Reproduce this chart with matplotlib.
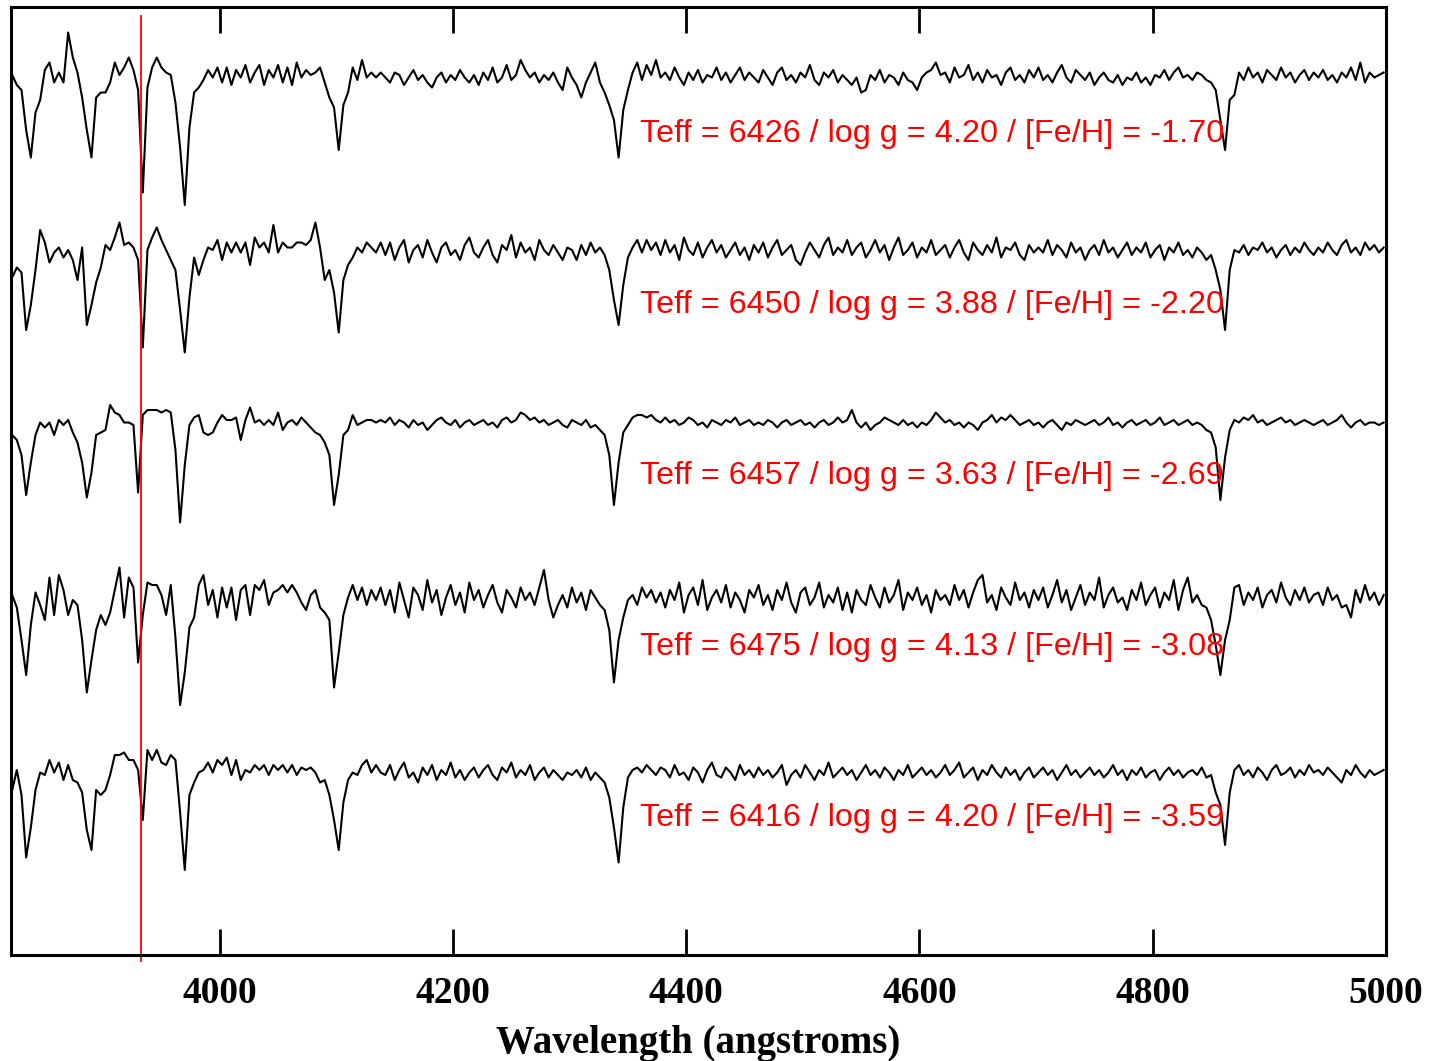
import numpy as np
import matplotlib.pyplot as plt

# wavelength sampling of the spectra (angstroms)
wave_start = 3822
wave_step = 4

# normalized flux (percent of continuum), one row = 80 A
spec1 = [
    [100, 96, 94, 78, 67, 85, 90, 102, 105, 97, 101, 97, 117, 107, 101, 91, 78, 67, 91, 93],
    [93, 97, 105, 100, 103, 107, 102, 94, 53, 95, 103, 107, 103, 101, 100, 89, 71, 48, 79, 93],
    [95, 98, 102, 99, 103, 97, 103, 96, 102, 99, 104, 97, 101, 104, 96, 102, 99, 104, 97, 103],
    [96, 105, 99, 102, 100, 101, 103, 97, 91, 87, 70, 88, 93, 103, 98, 106, 99, 101, 99, 101],
    [99, 97, 101, 100, 96, 99, 102, 98, 100, 97, 95, 99, 101, 97, 100, 98, 102, 99, 97, 100],
    [96, 101, 98, 103, 97, 99, 104, 98, 100, 106, 102, 99, 101, 97, 100, 98, 101, 97, 94, 103],
    [99, 96, 91, 97, 101, 105, 97, 93, 88, 82, 67, 86, 94, 101, 105, 98, 104, 100, 106, 99],
    [101, 98, 103, 99, 96, 101, 98, 102, 97, 100, 99, 103, 98, 101, 97, 100, 103, 98, 101, 99],
    [97, 102, 99, 96, 101, 103, 98, 100, 97, 101, 99, 104, 98, 96, 101, 99, 102, 97, 100, 98],
    [96, 99, 93, 94, 100, 98, 102, 97, 100, 99, 96, 101, 98, 97, 94, 99, 101, 102, 105, 100],
    [101, 97, 103, 99, 100, 104, 98, 101, 97, 102, 99, 100, 96, 101, 103, 98, 100, 97, 102, 99],
    [103, 98, 100, 97, 101, 104, 99, 97, 102, 100, 98, 101, 96, 99, 101, 98, 97, 100, 96, 99],
    [98, 101, 97, 99, 96, 100, 99, 102, 98, 101, 103, 99, 100, 98, 101, 100, 98, 97, 94, 82],
    [70, 90, 92, 101, 98, 103, 99, 101, 97, 102, 100, 98, 103, 99, 101, 97, 100, 102, 98, 101],
    [99, 102, 98, 100, 97, 101, 99, 103, 98, 105, 97, 101, 99, 100, 101],
]
spec2 = [
    [89, 93, 91, 68, 78, 92, 108, 103, 95, 99, 101, 97, 100, 96, 88, 101, 70, 78, 87, 93],
    [102, 100, 105, 111, 102, 103, 101, 96, 61, 100, 105, 109, 104, 100, 96, 92, 76, 59, 81, 97],
    [90, 96, 101, 100, 104, 96, 103, 99, 103, 99, 103, 94, 105, 101, 103, 99, 110, 99, 103, 101],
    [101, 103, 103, 102, 104, 111, 101, 88, 92, 83, 67, 88, 94, 97, 101, 99, 103, 101, 99, 103],
    [98, 103, 96, 101, 104, 95, 100, 102, 97, 104, 99, 95, 101, 103, 98, 100, 96, 102, 105, 99],
    [97, 101, 104, 98, 95, 102, 100, 106, 97, 103, 99, 101, 96, 104, 100, 98, 102, 99, 96, 101],
    [100, 96, 102, 98, 103, 99, 101, 98, 92, 80, 70, 86, 97, 101, 104, 99, 104, 100, 103, 98],
    [104, 99, 102, 96, 105, 100, 98, 103, 97, 101, 104, 99, 102, 97, 100, 103, 98, 101, 96, 102],
    [99, 103, 97, 101, 104, 98, 100, 102, 96, 94, 99, 103, 100, 97, 102, 105, 98, 101, 99, 104],
    [98, 101, 103, 97, 100, 104, 99, 102, 96, 101, 105, 98, 100, 103, 97, 101, 99, 104, 98, 100],
    [102, 97, 101, 104, 99, 96, 103, 100, 98, 102, 99, 105, 97, 101, 100, 103, 98, 96, 102, 99],
    [101, 99, 104, 98, 102, 100, 97, 103, 99, 101, 96, 100, 102, 98, 104, 99, 101, 97, 100, 103],
    [98, 101, 99, 103, 97, 100, 102, 96, 101, 99, 103, 98, 100, 97, 101, 99, 96, 98, 92, 84],
    [68, 92, 100, 99, 102, 98, 101, 100, 103, 99, 101, 97, 100, 102, 98, 101, 99, 103, 100, 98],
    [101, 99, 103, 100, 98, 102, 104, 99, 101, 98, 103, 100, 102, 99, 101],
]
spec3 = [
    [95, 93, 87, 71, 84, 95, 100, 98, 100, 95, 101, 99, 101, 96, 92, 84, 70, 80, 95, 96],
    [97, 107, 104, 103, 100, 100, 99, 72, 103, 105, 105, 105, 104, 105, 104, 89, 60, 83, 99, 102],
    [103, 96, 95, 96, 100, 103, 101, 101, 102, 93, 101, 106, 100, 101, 99, 101, 99, 104, 97, 100],
    [101, 99, 102, 100, 98, 96, 95, 92, 87, 67, 79, 95, 97, 103, 99, 100, 101, 101, 100, 101],
    [100, 102, 99, 101, 100, 98, 101, 99, 100, 97, 99, 101, 102, 100, 99, 101, 98, 100, 101, 99],
    [100, 101, 99, 100, 98, 101, 102, 100, 101, 104, 103, 101, 102, 100, 101, 99, 100, 101, 99, 98],
    [101, 100, 99, 101, 98, 99, 97, 95, 87, 67, 84, 96, 99, 102, 103, 103, 102, 103, 101, 100],
    [102, 100, 101, 99, 100, 102, 101, 99, 100, 98, 101, 100, 99, 101, 100, 102, 99, 100, 101, 99],
    [100, 99, 101, 100, 98, 100, 101, 99, 100, 101, 99, 100, 98, 100, 101, 99, 100, 102, 100, 101],
    [105, 100, 98, 100, 97, 99, 100, 102, 101, 100, 99, 101, 99, 100, 98, 100, 99, 101, 104, 102],
    [100, 101, 99, 100, 98, 100, 99, 97, 100, 101, 103, 100, 102, 101, 103, 101, 99, 100, 101, 99],
    [100, 98, 100, 101, 99, 97, 100, 99, 101, 100, 99, 100, 101, 99, 100, 102, 99, 100, 98, 100],
    [101, 99, 100, 101, 99, 100, 102, 99, 100, 101, 99, 100, 101, 99, 100, 99, 97, 96, 90, 69],
    [86, 97, 101, 100, 102, 101, 103, 100, 101, 99, 100, 101, 102, 100, 101, 99, 100, 101, 100, 99],
    [100, 101, 99, 100, 101, 103, 100, 98, 100, 101, 99, 100, 100, 99, 100],
]
spec4 = [
    [101, 96, 83, 69, 89, 102, 97, 91, 108, 93, 109, 103, 93, 99, 97, 83, 62, 75, 87, 93],
    [89, 94, 103, 112, 92, 108, 104, 74, 93, 106, 105, 105, 101, 93, 105, 84, 57, 70, 88, 92],
    [105, 109, 97, 103, 92, 104, 96, 104, 91, 103, 105, 93, 105, 103, 107, 97, 102, 103, 105, 102],
    [105, 102, 98, 95, 101, 103, 96, 94, 91, 64, 78, 93, 100, 105, 99, 104, 97, 103, 99, 104],
    [97, 103, 94, 106, 99, 92, 104, 101, 95, 107, 98, 103, 93, 100, 105, 97, 102, 94, 106, 99],
    [103, 96, 101, 105, 98, 94, 103, 100, 96, 104, 99, 102, 97, 104, 111, 99, 92, 97, 101, 96],
    [104, 98, 102, 95, 103, 100, 97, 95, 87, 66, 83, 92, 99, 101, 97, 104, 100, 103, 98, 102],
    [96, 103, 99, 106, 94, 101, 104, 97, 107, 95, 100, 103, 98, 105, 96, 102, 99, 94, 103, 100],
    [105, 97, 101, 95, 103, 99, 106, 98, 94, 102, 104, 97, 100, 106, 96, 101, 98, 104, 95, 102],
    [94, 103, 99, 97, 105, 100, 96, 104, 98, 101, 107, 95, 102, 99, 104, 97, 101, 94, 103, 99],
    [101, 97, 105, 99, 103, 96, 102, 107, 109, 98, 101, 95, 104, 100, 97, 106, 99, 102, 96, 103],
    [99, 104, 96, 101, 107, 98, 103, 95, 100, 105, 97, 102, 99, 108, 96, 101, 104, 98, 100, 95],
    [103, 99, 106, 97, 101, 104, 96, 102, 99, 107, 95, 103, 108, 98, 101, 97, 96, 91, 81, 69],
    [83, 91, 104, 105, 97, 102, 99, 104, 96, 101, 103, 98, 106, 100, 97, 103, 99, 104, 98, 101],
    [102, 97, 104, 99, 101, 96, 97, 92, 103, 98, 105, 99, 102, 97, 101],
]
spec5 = [
    [93, 101, 91, 66, 78, 93, 100, 99, 105, 100, 104, 97, 103, 97, 96, 92, 77, 69, 93, 91],
    [93, 99, 107, 107, 108, 105, 105, 101, 81, 109, 105, 109, 104, 103, 107, 105, 84, 61, 91, 96],
    [100, 101, 104, 100, 105, 103, 106, 99, 105, 97, 101, 100, 103, 101, 103, 99, 103, 101, 103, 100],
    [103, 99, 102, 101, 102, 100, 96, 97, 91, 81, 69, 88, 97, 100, 99, 103, 105, 100, 103, 100],
    [99, 103, 97, 101, 104, 98, 100, 96, 102, 99, 103, 97, 101, 99, 104, 98, 101, 97, 100, 102],
    [98, 101, 103, 99, 97, 102, 100, 104, 98, 101, 99, 103, 97, 100, 102, 98, 101, 99, 97, 100],
    [99, 101, 98, 102, 97, 100, 98, 96, 90, 78, 64, 86, 98, 101, 102, 100, 103, 101, 99, 102],
    [101, 98, 103, 99, 100, 97, 102, 100, 96, 101, 104, 99, 98, 102, 100, 97, 103, 99, 101, 98],
    [102, 99, 101, 98, 100, 103, 95, 99, 101, 98, 103, 100, 97, 101, 99, 104, 98, 100, 102, 99],
    [101, 97, 100, 103, 99, 101, 98, 102, 100, 97, 101, 99, 103, 98, 100, 102, 99, 101, 98, 100],
    [103, 99, 101, 104, 98, 100, 102, 97, 101, 99, 103, 100, 98, 102, 99, 101, 97, 100, 102, 98],
    [100, 102, 99, 101, 97, 100, 103, 99, 101, 98, 100, 102, 99, 101, 98, 100, 103, 99, 101, 97],
    [101, 99, 102, 98, 100, 101, 97, 100, 102, 99, 101, 98, 100, 101, 99, 102, 98, 99, 92, 87],
    [71, 92, 101, 103, 99, 101, 98, 102, 100, 97, 101, 103, 99, 100, 102, 98, 101, 99, 103, 100],
    [101, 99, 102, 100, 98, 96, 101, 99, 103, 100, 98, 101, 99, 100, 101],
]

teff = [6426, 6450, 6457, 6475, 6416]
logg = ["4.20", "3.88", "3.63", "4.13", "4.20"]
feh = ["-1.70", "-2.20", "-2.69", "-3.08", "-3.59"]

ca_k_line = 3932.5
xticks = [4000, 4200, 4400, 4600, 4800, 5000]

spectra = [spec1, spec2, spec3, spec4, spec5]
offsets = [2.52, 1.82, 1.13, 0.43, -0.27]
label_y = [3.252 - 0.684 * i for i in range(5)]

fig = plt.figure(figsize=(14.29, 10.61), dpi=100)
ax = fig.add_axes([0.0077, 0.0999, 0.9622, 0.8935])

for i, spec in enumerate(spectra):
    for r, row in enumerate(spec):
        if len(row) != (20 if r < 14 else 15):
            raise ValueError(f"spectrum {i + 1} row {r} has {len(row)} values")
    flux = np.concatenate([np.array(row, dtype=float) for row in spec]) / 100.0
    wave = wave_start + wave_step * np.arange(len(flux))
    ax.plot(wave, flux + offsets[i], color='black', lw=1.5)
    ax.text(4360, label_y[i], f"Teff = {teff[i]} / log g = {logg[i]} / [Fe/H] = {feh[i]}",
            color='red', fontsize=23.3, family='Liberation Sans', va='baseline', ha='left')

ax.axvline(ca_k_line, ymin=-0.006, ymax=0.99, color='red', lw=1.3, clip_on=False)

ax.set_xlim(3821, 5000)
ax.set_ylim(0, 3.792)
ax.set_yticks([])
ax.set_xticks(xticks)
ax.set_xticklabels([str(t) for t in xticks], family='Liberation Serif', fontsize=27, fontweight='bold')
ax.tick_params(axis='x', which='both', direction='in', length=19, width=2, top=True, pad=15)
for s in ax.spines.values():
    s.set_linewidth(2.2)
ax.set_xlabel("Wavelength (angstroms)", family='Liberation Serif', fontsize=28, fontweight='bold', labelpad=10)

fig.savefig("out.png", dpi=100)
